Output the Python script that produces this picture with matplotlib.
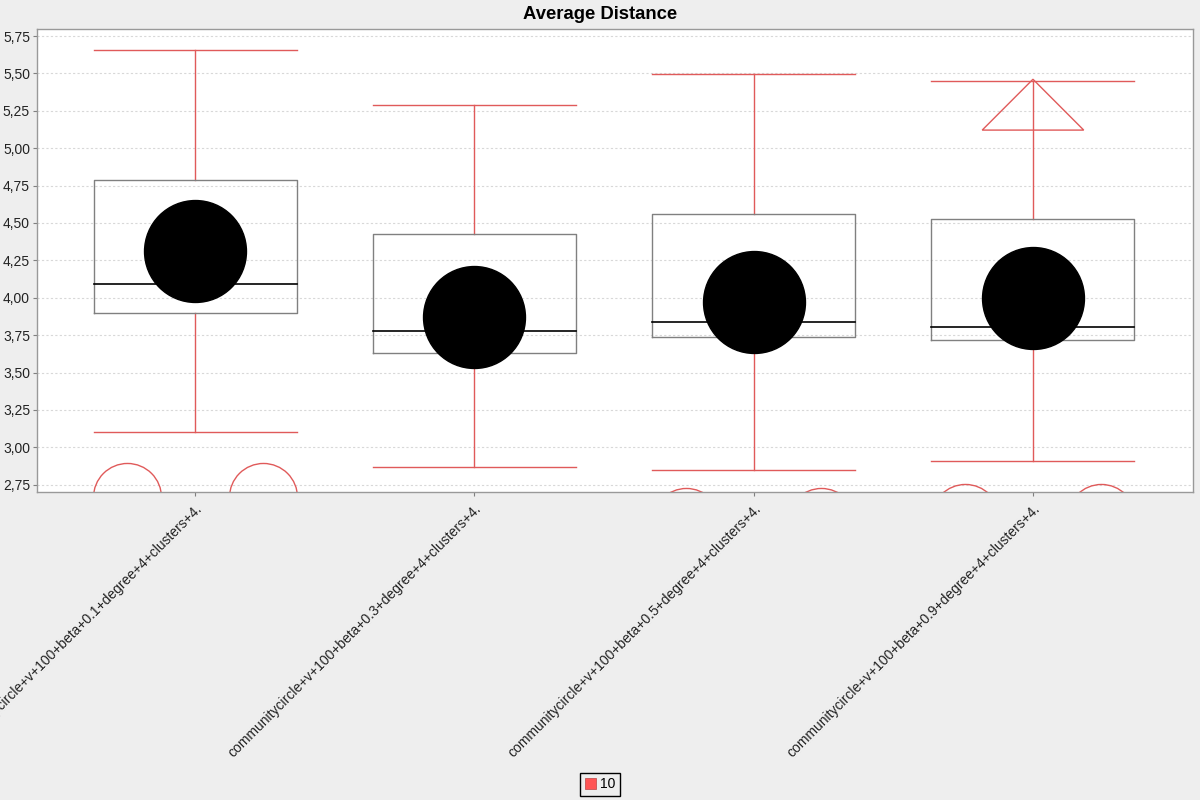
import matplotlib.pyplot as plt
from matplotlib.patches import Patch, Polygon
from matplotlib.ticker import FuncFormatter

plt.rcParams['font.family'] = ['Liberation Sans', 'DejaVu Sans']

# data
labels = ['communitycircle+v+100+beta+0.1+degree+4+clusters+4.',
          'communitycircle+v+100+beta+0.3+degree+4+clusters+4.',
          'communitycircle+v+100+beta+0.5+degree+4+clusters+4.',
          'communitycircle+v+100+beta+0.9+degree+4+clusters+4.']
whisk_hi = [5.655, 5.29, 5.497, 5.448]
q3 = [4.788, 4.428, 4.561, 4.528]
median = [4.095, 3.775, 3.835, 3.801]
q1 = [3.895, 3.628, 3.737, 3.717]
whisk_lo = [3.103, 2.87, 2.848, 2.908]
means = [4.31, 3.872, 3.971, 3.998]
low_outliers = [2.667, None, 2.503, 2.527]
far_high = [None, None, None, 5.461]
series_name = '10'

red = '#e05a5a'
box_w = 0.727

fig = plt.figure(figsize=(12, 8), dpi=100, facecolor='#eeeeee')
ax = fig.add_axes([37 / 1200, 1 - 492 / 800, 1156 / 1200, 463 / 800])
ax.set_facecolor('white')

for i in range(len(labels)):
    left, right = i - box_w / 2, i + box_w / 2
    # whiskers
    ax.plot([i, i], [q3[i], whisk_hi[i]], color=red, lw=1, zorder=2)
    ax.plot([i, i], [q1[i], whisk_lo[i]], color=red, lw=1, zorder=2)
    ax.plot([left, right], [whisk_hi[i], whisk_hi[i]], color=red, lw=1, zorder=2)
    ax.plot([left, right], [whisk_lo[i], whisk_lo[i]], color=red, lw=1, zorder=2)
    # box
    ax.plot([left, right, right, left, left], [q1[i], q1[i], q3[i], q3[i], q1[i]],
            color='#808080', lw=1, zorder=3)
    ax.plot([left, right], [median[i], median[i]], color='black', lw=1.2, zorder=3)
    # mean
    ax.plot(i, means[i], 'o', ms=73.4, color='black', zorder=4)
    # outliers
    if low_outliers[i] is not None:
        for dx in (-box_w / 3, box_w / 3):
            ax.plot(i + dx, low_outliers[i], 'o', ms=49, mfc='none', mec=red, mew=1, zorder=2)
    if far_high[i] is not None:
        tri = Polygon([(i, far_high[i]), (i - box_w / 4, far_high[i] - 0.34),
                       (i + box_w / 4, far_high[i] - 0.34)],
                      closed=True, fill=False, edgecolor=red, lw=1, zorder=2)
        ax.add_patch(tri)

ax.set_xlim(-0.566, 3.573)
ax.set_ylim(2.701, 5.797)
ax.set_yticks([2.75 + 0.25 * k for k in range(13)])
ax.yaxis.set_major_formatter(FuncFormatter(lambda v, p: f'{v:.2f}'.replace('.', ',')))
ax.set_xticks(range(len(labels)))
ax.set_xticklabels(labels, rotation=45, ha='right', va='top', rotation_mode='anchor')
ax.tick_params(axis='both', labelsize=10, colors='#808080', labelcolor='#222222',
               length=3, width=0.8)
ax.tick_params(axis='y', pad=2)
ax.tick_params(axis='x', pad=4)
ax.yaxis.grid(True, color='#d8d8d8', linestyle=(0, (2, 2)), lw=0.8)
ax.set_axisbelow(True)
for s in ax.spines.values():
    s.set_color('#999999')
    s.set_linewidth(1)

fig.suptitle('Average Distance', x=0.5, y=0.992, fontsize=13.3, fontweight='bold')

handles = [Patch(facecolor='#ff5555', edgecolor='#bb4444', lw=0.5, label=series_name)]
leg = fig.legend(handles=handles, loc='lower center', bbox_to_anchor=(0.5, -0.004),
                 fontsize=10, frameon=True, fancybox=False, edgecolor='black',
                 facecolor='#eeeeee', framealpha=1, handlelength=0.8, handleheight=0.8,
                 handletextpad=0.3, borderpad=0.35)
leg.get_frame().set_linewidth(1)

fig.savefig('out.png', dpi=100, facecolor=fig.get_facecolor())
